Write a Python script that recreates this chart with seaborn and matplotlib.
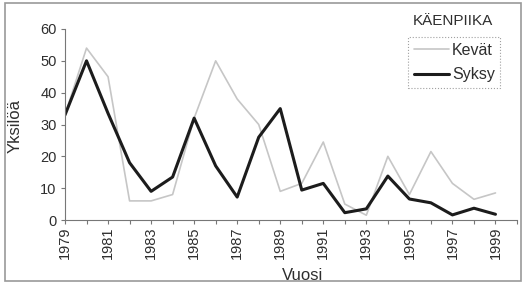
import matplotlib
matplotlib.use("Agg")
import matplotlib.pyplot as plt
import seaborn as sns
import pandas as pd
from matplotlib.patches import Rectangle
from matplotlib.ticker import MultipleLocator

years = list(range(1979, 2000))
kevat = [33, 54, 45, 6, 6, 8, 32, 50, 38, 30, 9, 11.5, 24.5, 5, 1.5, 20, 8, 21.5, 11.5, 6.5, 8.5]
syksy = [33, 50, 33.5, 18, 9, 13.5, 32, 17, 7.2, 26, 35, 9.4, 11.5, 2.3, 3.5, 13.8, 6.6, 5.4, 1.6, 3.7, 1.8]
series_names = ["Kevät", "Syksy"]
legend_title = "KÄENPIIKA"
xlabel = "Vuosi"
ylabel = "Yksilöä"

sns.set_style("white")
plt.rcParams["font.family"] = ["Liberation Sans", "DejaVu Sans"]

df = pd.DataFrame({
    "Vuosi": years * 2,
    "Yksilöä": kevat + syksy,
    "Sarja": [series_names[0]] * len(years) + [series_names[1]] * len(years),
})

fig = plt.figure(figsize=(5.25, 2.9), dpi=100)
ax = fig.add_axes([65 / 525, 1 - 220 / 290, (517 - 65) / 525, (220 - 29) / 290])

sns.lineplot(data=df, x="Vuosi", y="Yksilöä", hue="Sarja", size="Sarja",
             palette={"Kevät": "#c6c6c6", "Syksy": "#1c1c1c"},
             sizes={"Kevät": 1.2, "Syksy": 2.2}, ax=ax)

txt = "#2e2e2e"
ax.set_xlim(1979, 2000)
ax.set_ylim(0, 60)
ax.xaxis.set_minor_locator(MultipleLocator(1))
ax.yaxis.set_major_locator(MultipleLocator(10))
ax.set_xticks(list(range(1979, 2000, 2)))
ax.set_xticklabels([str(y) for y in range(1979, 2000, 2)], rotation=90, fontsize=10.5, color=txt)
ax.tick_params(axis="y", labelsize=10.5, labelcolor=txt)
ax.tick_params(axis="both", which="both", direction="out", length=3, color="#777777", width=0.8)
ax.tick_params(axis="x", which="both", bottom=True, pad=2)
ax.tick_params(axis="y", left=True, pad=3)
for s in ["top", "right"]:
    ax.spines[s].set_visible(False)
for s in ["left", "bottom"]:
    ax.spines[s].set_color("#777777")
    ax.spines[s].set_linewidth(0.8)
ax.set_xlabel("")
ax.set_ylabel("")

fig.text(303 / 525, 1 - 275 / 290, xlabel, ha="center", va="center", fontsize=12, color=txt)
fig.text(15 / 525, 1 - 126 / 290, ylabel, ha="center", va="center", rotation=90, fontsize=12, color=txt)
fig.text(453 / 525, 1 - 21 / 290, legend_title, ha="center", va="center", fontsize=11, color=txt)

leg = ax.legend(loc="upper left", bbox_to_anchor=(408 / 525, 1 - 37 / 290), bbox_transform=fig.transFigure,
                frameon=True, fancybox=False, fontsize=11.5, handlelength=2.2, handletextpad=0.2,
                borderpad=0.35, labelspacing=0.6, borderaxespad=0)
leg.get_frame().set_edgecolor("#888888")
leg.get_frame().set_linestyle(":")
leg.get_frame().set_linewidth(0.8)
for t in leg.get_texts():
    t.set_color(txt)

fig.patches.append(Rectangle((5 / 525, 1 - 281 / 290), 516 / 525, 278 / 290, transform=fig.transFigure,
                             fill=False, edgecolor="#999999", linewidth=1.2))

fig.savefig("out.png", dpi=100)
